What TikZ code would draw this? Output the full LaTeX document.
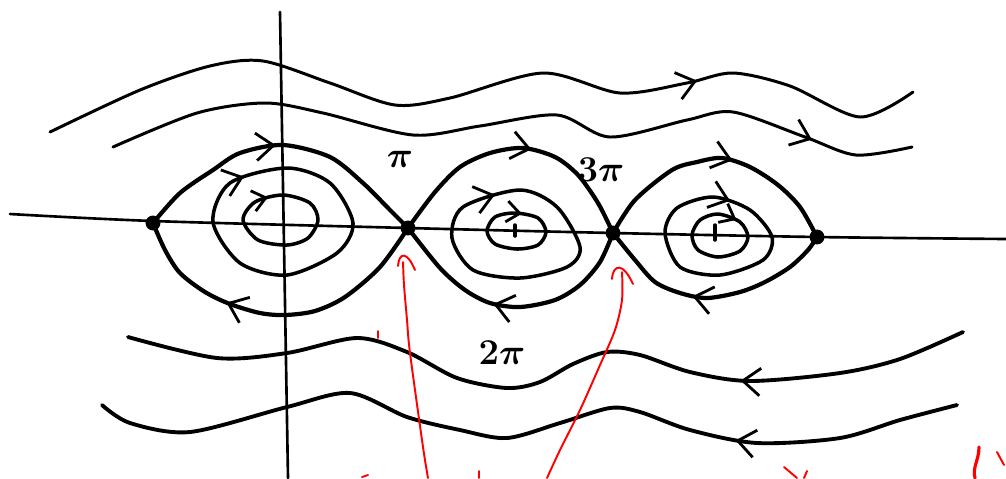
\documentclass[tikz,border=0pt]{standalone}
\usepackage{amsmath}
\usetikzlibrary{arrows.meta,decorations.markings}
\begin{document}
\begin{tikzpicture}[x=0.02cm,y=-0.02cm,line cap=round,line join=round]
\tikzstyle{fix}=[circle,fill,inner sep=0pt,minimum size=8.5pt]
\tikzstyle{lbl}=[font=\huge\boldmath,inner sep=0pt]
\tikzstyle{axis}=[line width=1.5pt]
\tikzstyle{sep}=[line width=2.4pt]
\tikzstyle{orb}=[line width=2pt]
\tikzstyle{wave}=[line width=1.7pt]
\tikzstyle{note}=[red,line width=1.1pt]
\tikzset{flow/.style={postaction={decorate},decoration={markings,mark=at position #1 with {\arrow[line width=1.6pt]{Straight Barb[length=3.5mm,width=5.5mm]}}}}}
\tikzset{sflow/.style={postaction={decorate},decoration={markings,mark=at position #1 with {\arrow[line width=1.6pt]{Straight Barb[length=2.6mm,width=4.2mm]}}}}}
\useasboundingbox (0,0) rectangle (1006,478);

% axes
\draw[axis] (280,12) -- (288,478);
\draw[axis] plot[smooth] coordinates {(10,214) (153,221) (408,228) (613,233) (817,237) (1006,239)};

% fixed points
\node[fix] (sA) at (153,223) {};
\node[fix] (sB) at (408,228) {};
\node[fix] (sC) at (613,233) {};
\node[fix] (sD) at (817,237) {};

% separatrices
\draw[sep,flow=0.48] plot[smooth] coordinates {(sA.center) (180,193) (213,170) (240,153) (283,145) (330,157) (363,183) (390,210) (sB.center)};
\draw[sep,flow=0.66] plot[smooth] coordinates {(sB.center) (380,267) (345,297) (315,311) (285,315) (260,313) (230,304) (205,292) (180,273) (165,250) (sA.center)};
\draw[sep,flow=0.56] plot[smooth] coordinates {(sB.center) (435,192) (460,167) (490,153) (523,148) (555,157) (578,175) (598,203) (sC.center)};
\draw[sep,flow=0.57] plot[smooth] coordinates {(sC.center) (600,262) (580,285) (555,300) (520,307) (490,303) (465,290) (440,268) (sB.center)};
\draw[sep,flow=0.56] plot[smooth] coordinates {(sC.center) (635,200) (672,170) (697,162) (722,158) (750,167) (778,185) (800,207) (sD.center)};
\draw[sep,flow=0.58] plot[smooth] coordinates {(sD.center) (808,250) (790,267) (765,282) (740,292) (707,298) (680,293) (655,282) (635,260) (sC.center)};

% closed orbits
\draw[orb,flow=0.04] plot[smooth cycle] coordinates {(213,222) (230,183) (287,168) (330,183) (353,223) (337,253) (287,275) (240,263)};
\draw[orb,sflow=0.07] plot[smooth cycle] coordinates {(243,220) (255,202) (283,195) (310,203) (318,220) (308,238) (287,245) (258,240)};
\draw[orb,flow=0.10] plot[smooth cycle] coordinates {(452,238) (463,207) (520,190) (557,207) (580,247) (567,267) (520,278) (473,270)};
\draw[orb,sflow=0.18] plot[smooth cycle] coordinates {(487,231) (495,217) (515,213) (538,218) (546,232) (538,245) (517,249) (495,244)};
\draw[orb,flow=0.19] plot[smooth cycle] coordinates {(665,233) (677,208) (713,197) (750,210) (772,237) (763,260) (720,275) (680,267)};
\draw[orb,sflow=0.25] plot[smooth cycle] coordinates {(692,235) (700,220) (718,214) (740,222) (748,237) (740,251) (718,257) (698,250)};
\draw[orb] (515,225) -- (515,236);
\draw[orb] (715,225) -- (715,240);

% running orbits
\draw[wave,flow=0.745] plot[smooth] coordinates {(50,132) (140,90) (210,66) (263,61) (330,83) (395,105) (450,98) (543,73) (620,93) (687,83) (733,73) (790,86) (860,117) (913,92)};
\draw[wave,flow=0.875] plot[smooth] coordinates {(113,147) (197,113) (265,103) (323,113) (413,135) (480,126) (557,115) (610,137) (687,120) (733,112) (805,137) (856,155) (912,147)};
\draw[wave,line width=2.2pt,flow=0.265] plot[smooth] coordinates {(963,332) (900,359) (840,373) (750,381) (690,372) (640,355) (607,352) (573,364) (540,382) (507,388) (457,378) (407,352) (357,338) (287,353) (217,358) (128,337)};
\draw[wave,line width=2.2pt,flow=0.255] plot[smooth] coordinates {(957,405) (900,420) (840,438) (757,443) (690,430) (640,412) (610,408) (560,423) (507,438) (460,430) (407,417) (350,393) (287,407) (190,432) (130,423) (102,405)};

% labels
\node[lbl] (lpi) at (400,159) {$\pi$};
\node[lbl] (l3pi) at (601,170) {$3\pi$};
\node[lbl] (l2pi) at (502,353) {$2\pi$};

% red notes
\coordinate (r1) at (428,478);
\coordinate (r2) at (547,478);
\draw[note] plot[smooth] coordinates {(r1) (423,447) (410,353) (407,320) (404,285) (403,262)};
\draw[note] (398,266) .. controls (399,252) and (407,251) .. (415,270);
\draw[note] plot[smooth] coordinates {(r2) (560,450) (580,410) (600,365) (615,330) (622,300) (622,272)};
\draw[note] (612,279) .. controls (613,264) and (623,262) .. (633,284);
\draw[note] (378,331) -- (378,338);
\draw[note] (362,477) -- (368,475);
\draw[note] (479,471) -- (479,478);
\draw[note] (784,467) -- (797,478);
\draw[note] (804,478) -- (807,471);
\draw[note,line width=1.8pt] (979,447) .. controls (979,460) and (972,468) .. (975,478);
\draw[note] (997,452) -- (1004,465);
\end{tikzpicture}
\end{document}
